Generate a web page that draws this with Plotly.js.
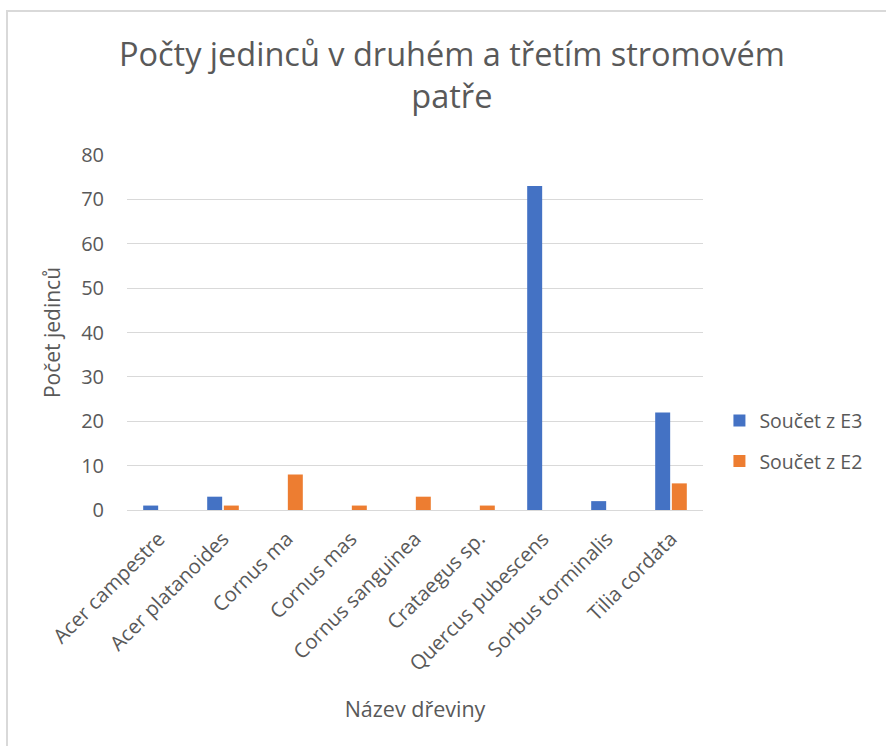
<!DOCTYPE html>
<html>
<head>
<meta charset="utf-8">
<script src="https://cdn.plot.ly/plotly-3.0.1.min.js"></script>
<style>
  html, body { margin: 0; padding: 0; overflow: hidden; background: #fff; }
  #chart { width: 886px; height: 746px; }
  #frame { position: absolute; left: 6px; top: 10px; width: 1000px; height: 1000px;
           border-left: 2px solid #d9d9d9; border-top: 2px solid #d9d9d9; pointer-events: none; }
</style>
</head>
<body>
<div id="chart"></div>
<div id="frame"></div>
<script>
const categories = ["Acer campestre", "Acer platanoides", "Cornus ma", "Cornus mas",
  "Cornus sanguinea", "Crataegus sp.", "Quercus pubescens", "Sorbus torminalis", "Tilia cordata"];
const seriesE3 = [1, 3, 0, 0, 0, 0, 73, 2, 22];
const seriesE2 = [0, 1, 8, 1, 3, 1, 0, 0, 6];
const seriesNames = ["Součet z E3", "Součet z E2"];
const yTicks = [0, 10, 20, 30, 40, 50, 60, 70, 80];

const font = "Open Sans, sans-serif";
const grey = "#595959";

const traces = [
  { type: "bar", name: seriesNames[0], x: categories, y: seriesE3,
    marker: { color: "#4472C4" }, legendgroup: "a", hoverinfo: "x+y" },
  { type: "bar", name: seriesNames[1], x: categories, y: seriesE2,
    marker: { color: "#ED7D31" }, legendgroup: "b", hoverinfo: "x+y" }
];

const layout = {
  width: 886, height: 746,
  margin: { l: 127, r: 183, t: 155, b: 236 },
  paper_bgcolor: "#ffffff", plot_bgcolor: "#ffffff",
  font: { family: font, color: grey },
  title: {
    text: "Počty jedinců v druhém a třetím stromovém<br>patře",
    font: { family: font, size: 32.5, color: grey },
    x: 0.51, xanchor: "center", xref: "container",
    y: 0.912, yanchor: "top", yref: "container"
  },
  barmode: "group", bargap: 0.48, bargroupgap: 0.1,
  xaxis: {
    type: "category",
    tickangle: -45,
    tickfont: { family: font, size: 20.3, color: grey },
    showgrid: false, showline: false, zeroline: false, ticks: "",
    ticklabelstandoff: 12,
    title: { text: "Název dřeviny", font: { family: font, size: 21.5, color: grey }, standoff: 26 },
    automargin: false
  },
  yaxis: {
    range: [0, 80],
    tickvals: yTicks,
    ticktext: yTicks.map(String),
    tickfont: { family: font, size: 20, color: grey },
    gridcolor: "#d9d9d9", gridwidth: 1,
    zeroline: true, zerolinecolor: "#d9d9d9", zerolinewidth: 1,
    showline: false, ticks: "",
    ticklabelstandoff: 22,
    title: { text: "Počet jedinců", font: { family: font, size: 21, color: grey }, standoff: 14 },
    automargin: false
  },
  showlegend: true,
  legend: {
    x: 0.812, xref: "container", xanchor: "left",
    y: 0.409, yref: "container", yanchor: "middle",
    font: { family: font, size: 19.5, color: grey },
    tracegroupgap: 12, itemwidth: 30,
    bgcolor: "rgba(0,0,0,0)"
  }
};

Plotly.newPlot("chart", traces, layout, { displayModeBar: false, staticPlot: true });
</script>
</body>
</html>
